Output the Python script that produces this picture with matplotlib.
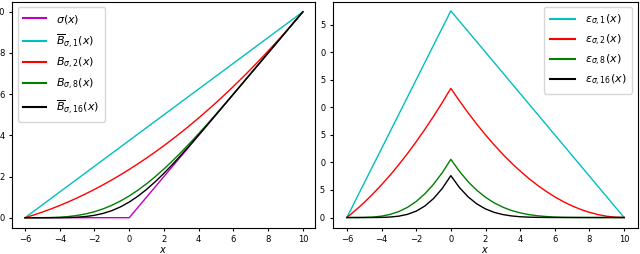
import matplotlib
matplotlib.use("Agg")
import matplotlib.pyplot as plt
import numpy as np
from matplotlib.transforms import Bbox, IdentityTransform, TransformedBbox

# sample points on [-6, 10]
x = np.arange(-6, 10.01, 0.5)

# values
relu = [0.0] * 13 + [0.5, 1.0, 1.5, 2.0, 2.5, 3.0, 3.5, 4.0, 4.5, 5.0, 5.5, 6.0,
                     6.5, 7.0, 7.5, 8.0, 8.5, 9.0, 9.5, 10.0]
b1 = [0.0, 0.3125, 0.625, 0.9375, 1.25, 1.5625, 1.875, 2.1875, 2.5, 2.8125, 3.125,
      3.4375, 3.75, 4.0625, 4.375, 4.6875, 5.0, 5.3125, 5.625, 5.9375, 6.25, 6.5625,
      6.875, 7.1875, 7.5, 7.8125, 8.125, 8.4375, 8.75, 9.0625, 9.375, 9.6875, 10.0]
b2 = [0.000, 0.131, 0.273, 0.428, 0.594, 0.771, 0.961, 1.162, 1.375, 1.600, 1.836,
      2.084, 2.344, 2.615, 2.898, 3.193, 3.500, 3.818, 4.148, 4.490, 4.844, 5.209,
      5.586, 5.975, 6.375, 6.787, 7.211, 7.646, 8.094, 8.553, 9.023, 9.506, 10.000]
b8 = [0.000, 0.000, 0.002, 0.009, 0.025, 0.057, 0.109, 0.185, 0.291, 0.430, 0.603,
      0.812, 1.056, 1.336, 1.649, 1.994, 2.367, 2.766, 3.188, 3.628, 4.084, 4.553,
      5.032, 5.518, 6.009, 6.504, 7.002, 7.501, 8.000, 8.500, 9.000, 9.500, 10.000]
b16 = [0.000, 0.000, 0.000, 0.000, 0.002, 0.009, 0.025, 0.058, 0.116, 0.209, 0.344,
       0.526, 0.760, 1.043, 1.374, 1.747, 2.156, 2.594, 3.054, 3.529, 4.014, 4.507,
       5.003, 5.501, 6.000, 6.500, 7.000, 7.500, 8.000, 8.500, 9.000, 9.500, 10.000]

approx = [b1, b2, b8, b16]
colors = ["c", "r", "g", "k"]
b_labels = [r"$\overline{B}_{\sigma,1}(x)$", r"$B_{\sigma,2}(x)$",
            r"$B_{\sigma,8}(x)$", r"$\overline{B}_{\sigma,16}(x)$"]
e_labels = [r"$\varepsilon_{\sigma,1}(x)$", r"$\varepsilon_{\sigma,2}(x)$",
            r"$\varepsilon_{\sigma,8}(x)$", r"$\varepsilon_{\sigma,16}(x)$"]

plt.rcParams["xtick.labelsize"] = 6
plt.rcParams["ytick.labelsize"] = 6
plt.rcParams["xtick.major.size"] = 2.5
plt.rcParams["ytick.major.size"] = 2.5
plt.rcParams["xtick.major.pad"] = 2.5
plt.rcParams["ytick.major.pad"] = 2.5

fig = plt.figure(figsize=(6.4, 2.54), dpi=100)
ax1 = fig.add_axes([12/640, 1 - 228/254, 303/640, 226.5/254])
ax2 = fig.add_axes([333/640, 1 - 228/254, 305/640, 226.5/254])

ax1.plot(x, relu, color="m", lw=1.0, label=r"$\sigma(x)$")
for b, c, lab in zip(approx, colors, b_labels):
    ax1.plot(x, b, color=c, lw=1.0, label=lab)
ax1.set_xticks([-6, -4, -2, 0, 2, 4, 6, 8, 10])
ax1.set_yticks([0, 2, 4, 6, 8, 10])
ax1.set_xlim(-6.75, 10.7)
ax1.set_ylim(-0.5, 10.5)
ax1.set_xlabel("$x$", fontsize=7, labelpad=1)
leg1 = ax1.legend(loc="upper left", fontsize=8, handlelength=2.1, labelspacing=0.55,
                  borderpad=0.5, handletextpad=0.9)
for h in leg1.get_lines():
    h.set_linewidth(1.5)

for b, c, lab in zip(approx, colors, e_labels):
    err = np.array(b) - np.array(relu)
    ax2.plot(x, err, color=c, lw=1.0, label=lab)
ax2.set_xticks([-6, -4, -2, 0, 2, 4, 6, 8, 10])
ax2.set_yticks([0, 0.5, 1.0, 1.5, 2.0, 2.5, 3.0, 3.5])
ax2.set_xlim(-6.8, 10.8)
ax2.set_ylim(-0.19, 3.92)
ax2.set_xlabel("$x$", fontsize=7, labelpad=1)
leg2 = ax2.legend(loc="upper right", fontsize=8, handlelength=2.3, labelspacing=0.45,
                  borderpad=0.5, handletextpad=0.9)
for h in leg2.get_lines():
    h.set_linewidth(1.5)

# the right panel's y tick labels are cut at the panel edge
clip = TransformedBbox(Bbox([[320, 0], [640, 254]]), IdentityTransform())
for lab in ax2.get_yticklabels():
    lab.set_clip_box(clip)
    lab.set_clip_on(True)

fig.savefig("out.png", dpi=100)
